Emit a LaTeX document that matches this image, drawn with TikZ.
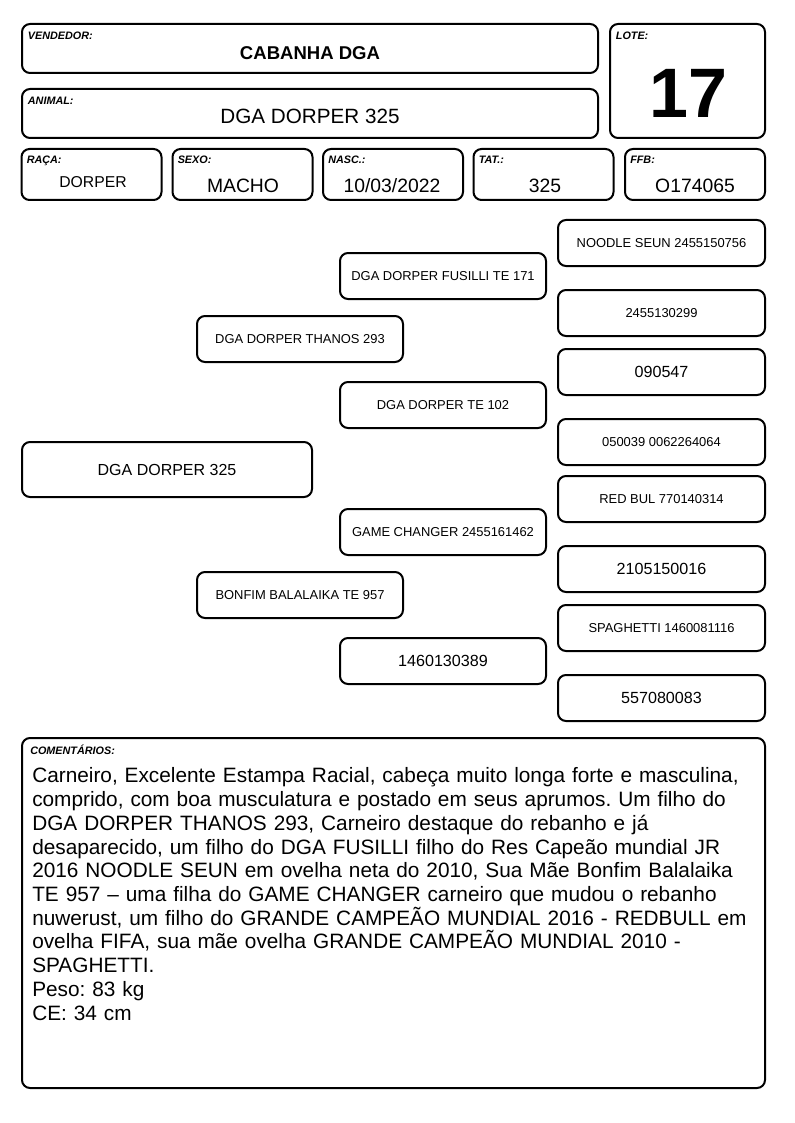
\documentclass[tikz,border=0pt]{standalone}
\usepackage{fontspec}
\setmainfont{Liberation Sans}
\usetikzlibrary{positioning}
\frenchspacing

\begin{document}
\begin{tikzpicture}[
    x=0.75pt, y=-0.75pt,
    box/.style={draw, line width=1.5pt, rounded corners=6pt, inner sep=0pt},
    tag/.style={anchor=north west, inner sep=0pt, font=\bfseries\itshape\fontsize{8.1}{9.5}\selectfont},
    wide/.style={box, minimum width=432pt, minimum height=36.75pt},
    field/.style={box, minimum width=105pt, minimum height=38.25pt},
    val/.style={inner sep=0pt, font=\fontsize{14.5}{17}\selectfont},
    anc/.style={box, minimum width=154.5pt, minimum height=34.5pt, font=\fontsize{9.7}{12}\selectfont},
    ancbig/.style={anc, font=\fontsize{12.1}{14}\selectfont},
    far/.style={anc, minimum width=155.25pt},
    farbig/.style={far, font=\fontsize{12.1}{14}\selectfont}
]
    \useasboundingbox (0,0) rectangle (794,1123);

    % header
    \node[wide] (vend) at (310,48.5) {};
    \node[tag] (vendtag) at ([xshift=5pt,yshift=-6.5pt]vend.north west) {VENDEDOR:};
    \node[val, font=\bfseries\fontsize{13.9}{16}\selectfont] (vendval) at (310,53) {CABANHA DGA};

    \node[wide] (anim) at (310,113.5) {};
    \node[tag] (animtag) at ([xshift=5pt,yshift=-6.5pt]anim.north west) {ANIMAL:};
    \node[val, font=\fontsize{15.5}{18}\selectfont] (animval) at (310,116) {DGA DORPER 325};

    \node[box, minimum width=116.25pt, minimum height=85.5pt] (lote) at (687.5,81) {};
    \node[tag] (lotetag) at ([xshift=5pt,yshift=-6.5pt]lote.north west) {LOTE:};
    \node[val, font=\bfseries\fontsize{52.5}{60}\selectfont] (loteval) at (688,93) {17};

    % data row
    \node[field] (raca) at (91.5,174.5) {};
    \node[field] (sexo) at (242.5,174.5) {};
    \node[field] (nasc) at (393,174.5) {};
    \node[field] (tat) at (543.5,174.5) {};
    \node[field] (ffb) at (695,174.5) {};
    \node[tag] (racatag) at ([xshift=4.5pt,yshift=-5.5pt]raca.north west) {RAÇA:};
    \node[tag] (sexotag) at ([xshift=4.5pt,yshift=-5.5pt]sexo.north west) {SEXO:};
    \node[tag] (nasctag) at ([xshift=4.5pt,yshift=-5.5pt]nasc.north west) {NASC.:};
    \node[tag] (tattag) at ([xshift=4.5pt,yshift=-5.5pt]tat.north west) {TAT.:};
    \node[tag] (ffbtag) at ([xshift=4.5pt,yshift=-5.5pt]ffb.north west) {FFB:};
    \node[val, font=\fontsize{11.8}{14}\selectfont] (racaval) at (93,182) {DORPER};
    \node[val] (sexoval) at (243,186) {MACHO};
    \node[val] (nascval) at (392,186) {10/03/2022};
    \node[val] (tatval) at (545,186) {325};
    \node[val] (ffbval) at (695,186) {O174065};

    % pedigree
    \node[box, minimum width=217.5pt, minimum height=41.25pt, font=\fontsize{12}{14}\selectfont] (self) at (167,469.5) {DGA DORPER 325};

    \node[anc] (sire) at (300,339) {DGA DORPER THANOS 293};
    \node[anc] (dam) at (300,595) {BONFIM BALALAIKA TE 957};

    \node[anc] (ss) at (443,276) {DGA DORPER FUSILLI TE 171};
    \node[anc] (sd) at (443,405) {DGA DORPER TE 102};
    \node[anc] (ds) at (443,532) {GAME CHANGER 2455161462};
    \node[ancbig] (dd) at (443,661) {1460130389};

    \node[far] (sss) at (661.5,243) {NOODLE SEUN 2455150756};
    \node[far] (ssd) at (661.5,313) {2455130299};
    \node[farbig] (sds) at (661.5,372) {090547};
    \node[far] (sdd) at (661.5,442) {050039 0062264064};
    \node[far] (dss) at (661.5,499) {RED BUL 770140314};
    \node[farbig] (dsd) at (661.5,569) {2105150016};
    \node[far] (dds) at (661.5,628) {SPAGHETTI 1460081116};
    \node[farbig] (ddd) at (661.5,698) {557080083};

    % comments
    \node[box, minimum width=557.25pt, minimum height=262.5pt] (com) at (393.5,913) {};
    \node[tag] (comtag) at ([xshift=6.75pt,yshift=-5.5pt]com.north west) {COMENTÁRIOS:};
    \node[anchor=north west, inner sep=0pt, text width=555pt, align=left,
          font=\fontsize{15.6}{17.8}\selectfont] (comtext) at (32,767.5)
        {Carneiro, Excelente Estampa Racial, cabeça muito longa forte e masculina,\\
         comprido, com boa musculatura e postado em seus aprumos. Um filho do\\
         DGA DORPER THANOS 293, Carneiro destaque do rebanho e já\\
         desaparecido, um filho do DGA FUSILLI filho do Res Capeão mundial JR\\
         2016 NOODLE SEUN em ovelha neta do 2010, Sua Mãe Bonfim Balalaika\\
         TE 957 – uma filha do GAME CHANGER carneiro que mudou o rebanho\\
         nuwerust, um filho do GRANDE CAMPEÃO MUNDIAL 2016 - REDBULL em\\
         ovelha FIFA, sua mãe ovelha GRANDE CAMPEÃO MUNDIAL 2010 -\\
         SPAGHETTI.\\
         Peso: 83 kg\\
         CE: 34 cm};
\end{tikzpicture}
\end{document}
